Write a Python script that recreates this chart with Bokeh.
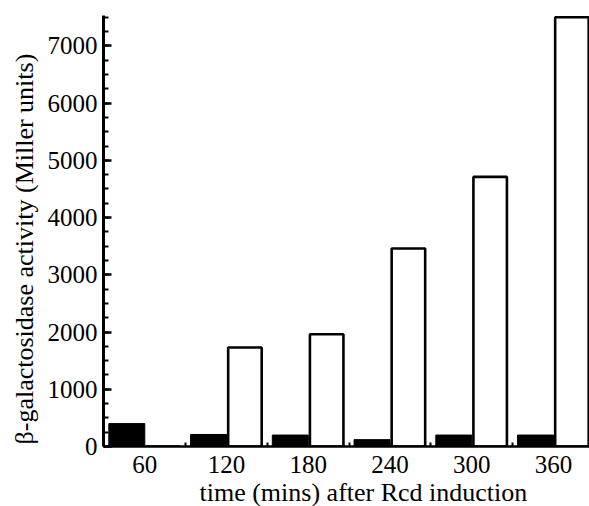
from bokeh.plotting import figure
from bokeh.models import Range1d, FixedTicker, SingleIntervalTicker, Title
from bokeh.embed import file_html
from bokeh.resources import INLINE

# Data
categories = ["60", "120", "180", "240", "300", "360"]
uninduced = [400, 210, 200, 120, 200, 200]        # black bars
induced = [0, 1730, 1960, 3460, 4710, 7500]       # white bars

x_title = "time (mins) after Rcd induction"
y_title = "β-galactosidase activity (Miller units)"

idx = list(range(len(categories)))
x_black = [i - 0.22 for i in idx]
x_white = [i + 0.225 for i in idx]

FONT = "Liberation Serif"
FS = "25px"
FS_TITLE = "26px"

p = figure(width=589, height=506, output_backend="svg", toolbar_location=None,
           x_range=Range1d(-0.505, 5.44), y_range=Range1d(0, 7530),
           min_border_left=103, min_border_right=0, min_border_top=15,
           min_border_bottom=60)
p.outline_line_color = None
p.xgrid.visible = False
p.ygrid.visible = False
p.background_fill_color = "white"
p.border_fill_color = "white"

p.vbar(x=x_black, top=uninduced, bottom=0, width=0.44,
       fill_color="black", line_color="black", line_width=1)
p.vbar(x=x_white, top=induced, bottom=0, width=0.41,
       fill_color="white", line_color="black", line_width=2.6)

# X axis
xa = p.xaxis[0]
xa.ticker = FixedTicker(ticks=idx, minor_ticks=[i + 0.5 for i in idx[:-1]])
xa.major_label_overrides = {i: c for i, c in zip(idx, categories)}
xa.major_tick_in = 0
xa.major_tick_out = 0
xa.minor_tick_in = 4
xa.minor_tick_out = 0
xa.minor_tick_line_width = 2
xa.axis_line_width = 2.5
xa.major_label_standoff = 9
xa.major_label_text_font = FONT
xa.major_label_text_font_size = FS
xa.major_label_text_font_style = "normal"
xa.major_label_text_color = "black"

# Y axis
ya = p.yaxis[0]
ya.ticker = SingleIntervalTicker(interval=1000, num_minor_ticks=4)
ya.major_tick_in = 8
ya.major_tick_out = 0
ya.minor_tick_in = 5
ya.minor_tick_out = 0
ya.major_tick_line_width = 2.5
ya.minor_tick_line_width = 2
ya.axis_line_width = 3
ya.major_label_standoff = 6
ya.major_label_text_font = FONT
ya.major_label_text_font_size = FS
ya.major_label_text_font_style = "normal"
ya.major_label_text_color = "black"

# Axis titles as side-panel titles
p.add_layout(Title(text=x_title, align="left", text_font=FONT,
                   text_font_size=FS_TITLE, text_font_style="normal",
                   text_color="black", standoff=0, offset=96), "below")
p.add_layout(Title(text=y_title, align="left", text_font=FONT,
                   text_font_size=FS_TITLE, text_font_style="normal",
                   text_color="black", standoff=12, offset=2), "left")

open("out.html", "w").write(file_html(p, INLINE))
